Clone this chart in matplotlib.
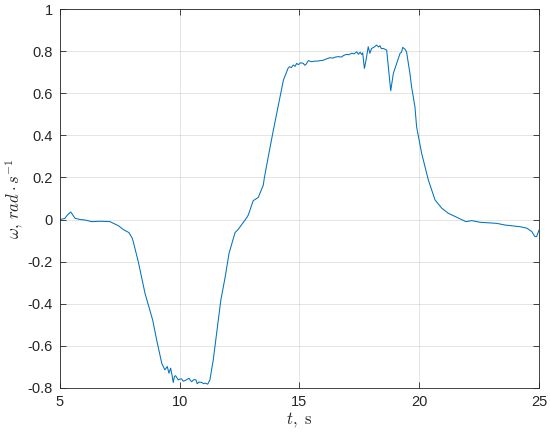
import matplotlib
matplotlib.use('Agg')
import matplotlib.pyplot as plt

# angular velocity
t = [5.0, 5.2, 5.3, 5.45, 5.63, 5.85, 6.04, 6.32, 6.7, 7.09, 7.23, 7.45, 7.64, 7.88,
     8.02, 8.06, 8.27, 8.55, 8.87, 9.04, 9.25, 9.38, 9.48, 9.55, 9.62, 9.68, 9.73,
     9.78, 9.83, 9.94, 10.0, 10.08, 10.15, 10.22, 10.3, 10.39, 10.45, 10.50, 10.6,
     10.68, 10.73, 10.8, 10.92, 11.0, 11.05, 11.17, 11.26, 11.40, 11.54, 11.72,
     11.89, 12.06, 12.31, 12.44, 12.80, 12.86, 13.07, 13.28, 13.49, 13.53, 13.70,
     13.91, 14.19, 14.33, 14.44, 14.52, 14.58, 14.66, 14.74, 14.82, 14.88, 14.95,
     15.05, 15.16, 15.22, 15.27, 15.37, 15.5, 15.60, 15.75, 15.86, 16.0, 16.1,
     16.27, 16.4, 16.5, 16.62, 16.75, 16.85, 16.97, 17.05, 17.18, 17.28, 17.39,
     17.46, 17.53, 17.6, 17.64, 17.71, 17.78, 17.87, 17.94, 18.01, 18.1, 18.22,
     18.3, 18.36, 18.42, 18.50, 18.64, 18.71, 18.81, 18.92, 19.06, 19.20, 19.26,
     19.31, 19.40, 19.47, 19.61, 19.68, 19.82, 19.89, 20.10, 20.38, 20.66, 20.94,
     21.21, 21.56, 21.95, 22.19, 22.54, 23.23, 23.58, 24.21, 24.49, 24.70, 24.83,
     24.90, 25.0]
w = [0.0, 0.005, 0.02, 0.036, 0.006, 0.0, -0.002, -0.01, -0.008, -0.01, -0.018,
     -0.03, -0.047, -0.062, -0.089, -0.105, -0.2, -0.35, -0.477, -0.573, -0.683,
     -0.714, -0.698, -0.73, -0.706, -0.74, -0.774, -0.745, -0.742, -0.762, -0.758,
     -0.757, -0.768, -0.765, -0.76, -0.754, -0.765, -0.77, -0.76, -0.762, -0.78,
     -0.772, -0.774, -0.78, -0.777, -0.782, -0.762, -0.667, -0.54, -0.38, -0.278,
     -0.16, -0.062, -0.047, 0.009, 0.021, 0.09, 0.105, 0.164, 0.196, 0.30, 0.425,
     0.584, 0.663, 0.695, 0.718, 0.726, 0.722, 0.734, 0.728, 0.742, 0.736, 0.745,
     0.742, 0.733, 0.737, 0.755, 0.75, 0.752, 0.753, 0.755, 0.757, 0.762, 0.769,
     0.767, 0.772, 0.774, 0.772, 0.78, 0.785, 0.783, 0.79, 0.787, 0.797, 0.785,
     0.795, 0.784, 0.792, 0.718, 0.758, 0.821, 0.79, 0.813, 0.818, 0.829, 0.82,
     0.826, 0.812, 0.813, 0.805, 0.726, 0.612, 0.695, 0.742, 0.79, 0.795, 0.818,
     0.81, 0.797, 0.695, 0.631, 0.536, 0.441, 0.315, 0.188, 0.093, 0.054, 0.030,
     0.011, -0.01, -0.005, -0.013, -0.018, -0.026, -0.034, -0.041, -0.057, -0.081,
     -0.081, -0.05]

xticks = [5, 10, 15, 20, 25]
yticks = [-0.8, -0.6, -0.4, -0.2, 0, 0.2, 0.4, 0.6, 0.8, 1]
ytick_labels = ['-0.8', '-0.6', '-0.4', '-0.2', '0', '0.2', '0.4', '0.6', '0.8', '1']

plt.rcParams['font.family'] = ['Liberation Sans', 'DejaVu Sans']
plt.rcParams['mathtext.fontset'] = 'cm'

fig = plt.figure(figsize=(5.5, 4.32), dpi=100)
ax = fig.add_axes([0.109, 0.102, 0.871, 0.877])

ax.plot(t, w, color='#0072BD', lw=0.75)

ax.set_xlim(5, 25)
ax.set_ylim(-0.8, 1)
ax.set_xticks(xticks)
ax.set_yticks(yticks)
ax.set_yticklabels(ytick_labels)
ax.grid(True, color='#262626', alpha=0.12, lw=0.7)
ax.tick_params(direction='in', length=4, width=0.6, top=True, right=True,
               labelsize=10.5, colors='#262626', labelcolor='#262626', pad=5)
for s in ax.spines.values():
    s.set_color('#262626')
    s.set_linewidth(0.6)

ax.set_xlabel(r'$t,\ \mathrm{s}$', fontsize=12, color='#262626', labelpad=1)
ax.set_ylabel(r'$\omega,\, rad\cdot s^{-1}$', fontsize=12, color='#262626', labelpad=2)

fig.savefig('out.png', dpi=100)
